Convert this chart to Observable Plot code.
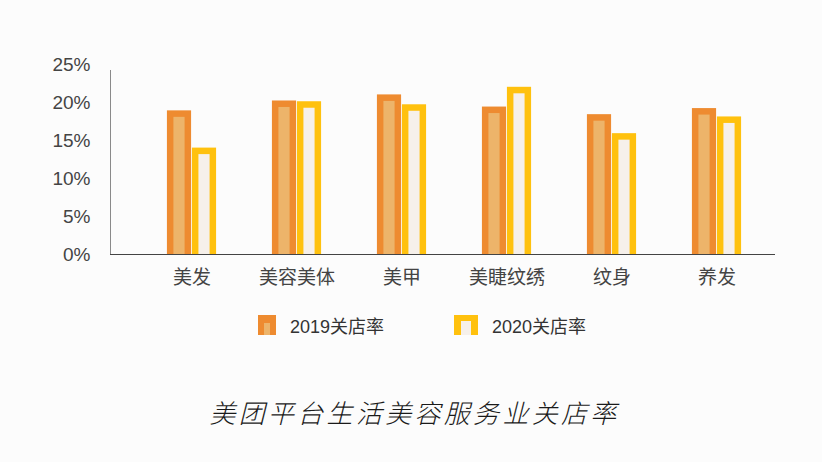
<!DOCTYPE html>
<html>
<head>
<meta charset="utf-8">
<script src="https://cdn.jsdelivr.net/npm/d3@7"></script>
<script src="https://cdn.jsdelivr.net/npm/@observablehq/plot@0.6"></script>
<style>
  html, body { margin: 0; padding: 0; background: #fcfcfc; }
  #wrap { position: relative; width: 822px; height: 462px; overflow: hidden;
          font-family: "Liberation Sans", "Noto Sans CJK SC", sans-serif; color: #333; }
  .leg { position: absolute; top: 312px; display: flex; align-items: center; font-size: 18px; color: #333; }
  .leg svg { margin-right: 14px; }
  #title { position: absolute; top: 393px; left: 0; width: 829px; text-align: center;
           font-family: "Noto Sans CJK SC", sans-serif; font-style: italic; font-weight: 300;
           font-size: 26px; letter-spacing: 3.3px; color: #1a1a1a; }
</style>
</head>
<body>
<div id="wrap">
  <div id="chart"></div>
  <div class="leg" style="left:258px">
    <svg width="18" height="20"><rect x="0" y="0" width="18" height="20" fill="#EE8B30"/><rect x="6" y="8" width="6" height="12" fill="#EDB46A"/></svg>
    <span>2019关店率</span>
  </div>
  <div class="leg" style="left:454px">
    <svg width="24" height="20"><rect x="0" y="0" width="24" height="20" fill="#FFC10E"/><rect x="7" y="6" width="10" height="14" fill="#F6F0EA"/></svg>
    <span>2020关店率</span>
  </div>
  <div id="title">美团平台生活美容服务业关店率</div>
</div>
<script>
const categories = ["美发", "美容美体", "美甲", "美睫纹绣", "纹身", "养发"];
const rate2019 = [18.9, 20.2, 21.0, 19.4, 18.4, 19.2];
const rate2020 = [14.0, 20.1, 19.7, 22.0, 15.9, 18.1];
const yTicks = [0, 5, 10, 15, 20, 25];
const seriesNames = ["2019关店率", "2020关店率"];

const rows = [];
categories.forEach((c, i) => {
  rows.push({category: c, series: seriesNames[0], value: rate2019[i]});
  rows.push({category: c, series: seriesNames[1], value: rate2020[i]});
});
const r19 = rows.filter(d => d.series === seriesNames[0]);
const r20 = rows.filter(d => d.series === seriesNames[1]);

const xRange = [136, 771];
const band = (xRange[1] - xRange[0]) / categories.length;
const half = band / 2;
const barW = 25;
const border = 6.5;

const chart = Plot.plot({
  width: 822,
  height: 300,
  marginLeft: 110,
  marginRight: 47,
  marginTop: 64,
  marginBottom: 46,
  style: {background: "transparent", fontSize: "19px", color: "#444",
          fontFamily: "'Liberation Sans', 'Noto Sans CJK SC', sans-serif"},
  x: {domain: categories, range: xRange, padding: 0, label: null, tickSize: 0, tickPadding: 16},
  y: {domain: [0, 25], ticks: yTicks, tickFormat: d => d + "%", label: null,
      tickSize: 0, tickPadding: 20},
  marks: [
    Plot.frame({anchor: "left", stroke: "#8a8a8a", insetTop: 6}),
    Plot.barY(r19, {x: "category", y: "value", fill: "#EE8B30",
      insetLeft: half - barW, insetRight: half}),
    Plot.barY(r19, {x: "category", y: "value", fill: "#EDB46A",
      insetLeft: half - barW + border, insetRight: half + border, insetTop: border}),
    Plot.barY(r20, {x: "category", y: "value", fill: "#FFC10E",
      insetLeft: half, insetRight: half - barW}),
    Plot.barY(r20, {x: "category", y: "value", fill: "#F6F0EA",
      insetLeft: half + border, insetRight: half - barW + border, insetTop: border}),
    Plot.ruleY([0], {stroke: "#444", strokeWidth: 1.2})
  ]
});
document.getElementById("chart").appendChild(chart);
</script>
</body>
</html>
